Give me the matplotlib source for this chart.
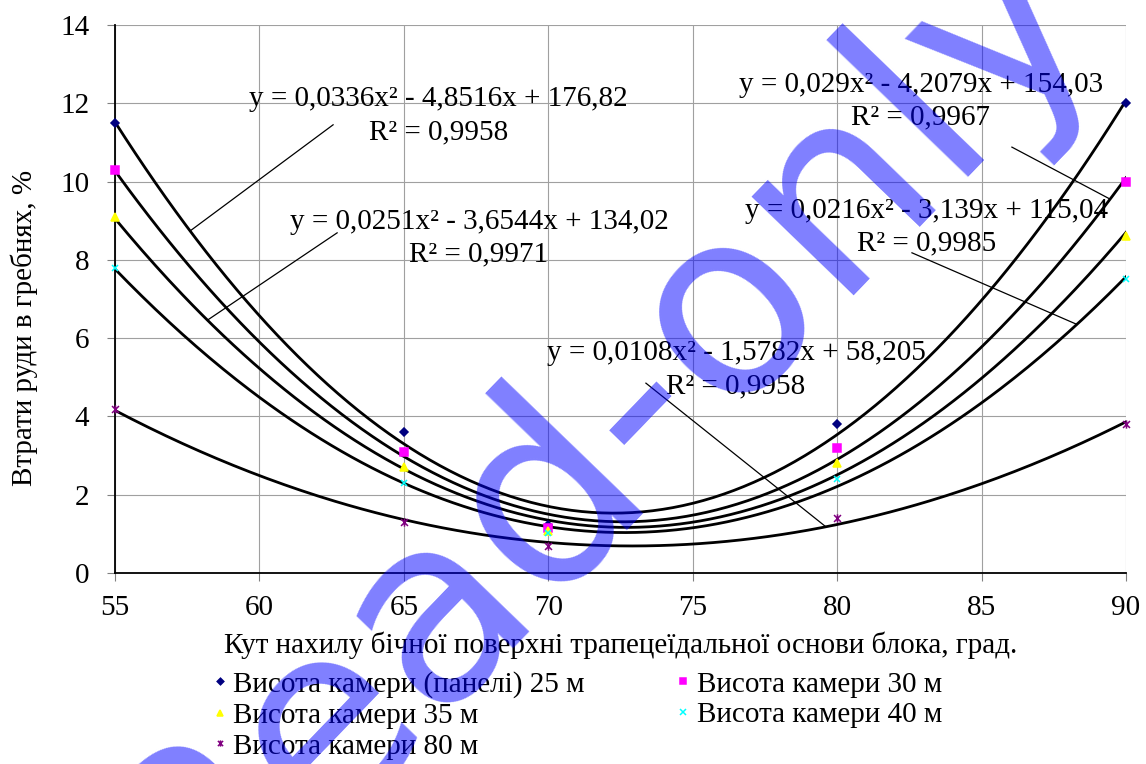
import numpy as np
import matplotlib
matplotlib.use('Agg')
import matplotlib.pyplot as plt
from matplotlib.path import Path

plt.rcParams['font.family'] = ['Liberation Serif', 'DejaVu Serif']

# Кут нахилу, град.
angles = [55, 65, 70, 80, 90]

# Втрати руди, % для кожної висоти камери
loss_25 = [11.5, 3.6, 1.23, 3.8, 12.0]
loss_30 = [10.3, 3.1, 1.15, 3.2, 10.0]
loss_35 = [9.1, 2.7, 1.07, 2.8, 8.6]
loss_40 = [7.8, 2.3, 1.02, 2.4, 7.5]
loss_80 = [4.2, 1.3, 0.7, 1.4, 3.8]

labels = ['Висота камери (панелі) 25 м', 'Висота камери 30 м',
          'Висота камери 35 м', 'Висота камери 40 м', 'Висота камери 80 м']

# підписи трендів (як у Excel)
eq_lines = ['y = 0,0336x² - 4,8516x + 176,82',
            'y = 0,029x² - 4,2079x + 154,03',
            'y = 0,0251x² - 3,6544x + 134,02',
            'y = 0,0216x² - 3,139x + 115,04',
            'y = 0,0108x² - 1,5782x + 58,205']
r2_lines = ['R² = 0,9958', 'R² = 0,9967', 'R² = 0,9971', 'R² = 0,9985',
            'R² = 0,9958']

series = [loss_25, loss_30, loss_35, loss_40, loss_80]

# маркер "зірка" як в Excel
star = Path([(-1, -1), (1, 1), (-1, 1), (1, -1), (0, -1.2), (0, 1.2)],
            [Path.MOVETO, Path.LINETO, Path.MOVETO, Path.LINETO,
             Path.MOVETO, Path.LINETO])
colors = ['#000080', '#ff00ff', '#ffff00', '#00ffff', '#800080']
markers = ['D', 's', '^', 'x', star]
msizes = [4.5, 5.5, 6, 5, 6]

fig = plt.figure(figsize=(11.46, 7.64), dpi=100)
ax = fig.add_axes([0.10035, 0.25, 0.8822, 0.71728])

xs = np.linspace(55, 90, 300)
handles = []
for y, lab, col, m, ms in zip(series, labels, colors, markers, msizes):
    coef = np.polyfit(angles, y, 2)
    ax.plot(xs, np.polyval(coef, xs), color='black', lw=2.0, zorder=2)
    h, = ax.plot(angles, y, linestyle='none', marker=m, color=col, ms=ms,
                 mew=1.1, label=lab, zorder=3, clip_on=False)
    handles.append(h)

ax.set_xlim(55, 90)
ax.set_ylim(0, 14)
ax.set_xticks(range(55, 91, 5))
ax.set_yticks(range(0, 15, 2))
ax.grid(True, color='#a0a0a0', lw=0.8)
ax.set_axisbelow(True)
for s in ['top', 'right']:
    ax.spines[s].set_visible(False)
ax.spines['left'].set_linewidth(1.3)
ax.spines['bottom'].set_linewidth(1.3)
ax.tick_params(axis='both', labelsize=21, length=5.5, color='#808080',
               direction='out', width=0.8)
ax.tick_params(axis='y', pad=13)
ax.tick_params(axis='x', pad=10)

ax.set_xlabel('Кут нахилу бічної поверхні трапецеїдальної основи блока, град.',
              fontsize=21)
ax.xaxis.set_label_coords(0.5, -0.106)
ax.set_ylabel('Втрати руди в гребнях, %', fontsize=21)
ax.yaxis.set_label_coords(-0.076, 0.447)

# положення підписів (центр, базова лінія) і виносних ліній
eq_x = [66.2, 82.9, 67.6, 83.1, 76.5]
eq_y = [11.93, 12.29, 8.79, 9.07, 5.44]
r2_y = [11.09, 11.47, 7.95, 8.25, 4.60]
lead_curve_x = [57.6, 89.45, 58.2, 88.3, 79.61]
lead_end = [(62.55, 11.45), (86.05, 10.88), (62.69, 8.69), (82.59, 8.18),
            (73.38, 4.85)]

for i in range(5):
    ax.text(eq_x[i], eq_y[i], eq_lines[i], fontsize=21, ha='center',
            va='baseline', zorder=4)
    ax.text(eq_x[i], r2_y[i], r2_lines[i], fontsize=21, ha='center',
            va='baseline', zorder=4)
    coef = np.polyfit(angles, series[i], 2)
    x0 = lead_curve_x[i]
    ax.plot([x0, lead_end[i][0]], [np.polyval(coef, x0), lead_end[i][1]],
            color='black', lw=0.9, zorder=2)

# легенда: порядок по рядках, як в Excel
order = [0, 2, 4, 1, 3]
fig.legend([handles[i] for i in order], [labels[i] for i in order],
           loc='upper left', bbox_to_anchor=(212.7 / 1146, 0.1217),
           ncol=2, frameon=False, fontsize=21, handlelength=0.5,
           handletextpad=0.2, columnspacing=3.14, labelspacing=0.15,
           markerscale=0.75, borderaxespad=0, borderpad=0)

# водяний знак
fig.text(0.523, 0.4385, 'Read-only', fontsize=186, color='#0000ff', alpha=0.5,
         rotation=46, ha='center', va='center', fontfamily='DejaVu Sans',
         zorder=10)

fig.savefig('out.png', dpi=100)
